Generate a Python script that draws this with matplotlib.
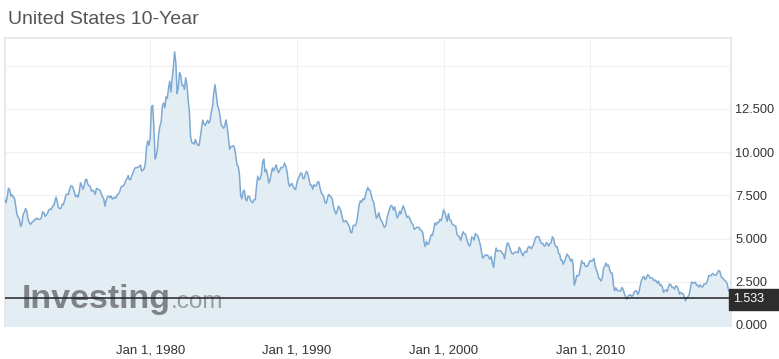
import numpy as np
import matplotlib
matplotlib.use("Agg")
from matplotlib import pyplot as plt
from matplotlib.patches import Rectangle

plt.rcParams['font.family'] = ['Liberation Sans', 'DejaVu Sans']

# monthly 10-year yield, Feb 1970 .. Jul 2019
start_year = 1970 + 1/12
yields = [
    7.24, 7.07, 7.39, 7.91, 7.84, 7.46, 7.53, 7.39, 7.33, 6.84, 6.39,
    6.24, 6.11, 5.70, 5.83, 6.39, 6.52, 6.73, 6.58, 6.14, 5.93, 5.81, 5.93,
    5.95, 6.08, 6.07, 6.19, 6.13, 6.11, 6.11, 6.21, 6.55, 6.48, 6.28, 6.36,
    6.46, 6.64, 6.71, 6.67, 6.85, 6.90, 7.13, 7.40, 7.09, 6.79, 6.73, 6.74,
    6.99, 6.96, 7.21, 7.51, 7.58, 7.54, 7.81, 8.04, 8.04, 7.90, 7.68, 7.43,
    7.50, 7.39, 7.73, 8.23, 8.06, 7.86, 8.06, 8.40, 8.43, 8.14, 8.05, 8.00,
    7.74, 7.79, 7.73, 7.56, 7.90, 7.86, 7.83, 7.77, 7.59, 7.41, 7.29, 6.87,
    7.21, 7.39, 7.46, 7.37, 7.46, 7.28, 7.33, 7.40, 7.34, 7.52, 7.58, 7.69,
    7.96, 8.03, 8.04, 8.15, 8.35, 8.46, 8.64, 8.41, 8.42, 8.64, 8.81, 9.01,
    9.10, 9.10, 9.12, 9.18, 9.25, 8.91, 8.95, 9.03, 9.33, 10.30, 10.65, 10.39,
    10.80, 12.60, 12.70, 11.47, 9.60, 9.78, 10.25, 11.10, 11.51, 11.75, 12.68, 12.84,
    12.57, 13.19, 13.12, 13.68, 14.10, 13.47, 14.28, 14.94, 15.80, 15.15, 13.39, 13.72,
    14.59, 14.43, 13.86, 13.87, 13.62, 14.30, 13.95, 13.06, 12.34, 10.91, 10.55, 10.54,
    10.46, 10.72, 10.51, 10.40, 10.38, 10.85, 11.38, 11.85, 11.65, 11.54, 11.69, 11.83,
    11.67, 11.84, 12.32, 12.63, 13.41, 13.90, 13.36, 12.72, 12.52, 12.16, 11.57, 11.50,
    11.38, 11.51, 11.86, 11.43, 10.85, 10.16, 10.31, 10.33, 10.37, 10.24, 9.78, 9.26,
    9.19, 8.70, 7.50, 7.30, 7.71, 7.80, 7.30, 7.17, 7.45, 7.43, 7.25, 7.11,
    7.08, 7.25, 7.25, 8.02, 8.61, 8.40, 8.45, 8.76, 9.42, 9.60, 8.86, 8.99,
    8.67, 8.21, 8.37, 8.72, 9.09, 8.92, 9.06, 9.26, 8.98, 8.80, 8.96, 9.11,
    9.09, 9.17, 9.36, 9.18, 8.86, 8.28, 8.02, 8.11, 8.19, 8.01, 7.87, 7.84,
    8.21, 8.47, 8.59, 8.79, 8.76, 8.48, 8.47, 8.75, 8.89, 8.72, 8.39, 8.08,
    8.09, 7.85, 8.11, 8.04, 8.07, 8.28, 8.27, 7.90, 7.65, 7.53, 7.42, 7.09,
    7.03, 7.34, 7.54, 7.48, 7.39, 7.26, 6.84, 6.59, 6.42, 6.59, 6.87, 6.77,
    6.60, 6.26, 5.98, 5.97, 6.04, 5.96, 5.81, 5.68, 5.36, 5.33, 5.72, 5.77,
    5.75, 5.97, 6.48, 6.97, 7.18, 7.10, 7.30, 7.24, 7.46, 7.74, 7.96, 7.81,
    7.78, 7.47, 7.20, 7.06, 6.63, 6.17, 6.28, 6.49, 6.20, 6.04, 5.93, 5.71,
    5.65, 5.81, 6.27, 6.51, 6.74, 6.91, 6.87, 6.64, 6.83, 6.53, 6.20, 6.30,
    6.58, 6.42, 6.69, 6.89, 6.71, 6.49, 6.22, 6.30, 6.21, 6.03, 5.88, 5.81,
    5.54, 5.57, 5.65, 5.64, 5.65, 5.50, 5.46, 5.34, 4.81, 4.53, 4.83, 4.65,
    4.72, 5.00, 5.23, 5.18, 5.54, 5.90, 5.79, 5.94, 5.92, 6.11, 6.03, 6.28,
    6.66, 6.52, 6.26, 5.99, 6.44, 6.10, 6.05, 5.83, 5.80, 5.74, 5.72, 5.24,
    5.16, 5.10, 4.89, 5.14, 5.39, 5.28, 5.24, 4.97, 4.73, 4.57, 4.65, 5.09,
    5.04, 4.91, 5.28, 5.21, 5.16, 4.93, 4.65, 4.26, 3.87, 3.94, 4.05, 4.03,
    4.05, 3.90, 3.81, 3.96, 3.57, 3.33, 3.98, 4.45, 4.27, 4.29, 4.30, 4.27,
    4.15, 4.08, 3.83, 4.35, 4.72, 4.73, 4.50, 4.28, 4.13, 4.10, 4.19, 4.23,
    4.22, 4.17, 4.50, 4.34, 4.14, 4.00, 4.18, 4.26, 4.20, 4.46, 4.54, 4.47,
    4.42, 4.57, 4.72, 4.99, 5.11, 5.11, 5.09, 4.88, 4.72, 4.73, 4.60, 4.56,
    4.76, 4.72, 4.56, 4.69, 4.75, 5.10, 5.00, 4.67, 4.52, 4.53, 4.15, 4.10,
    3.74, 3.74, 3.51, 3.68, 3.88, 4.10, 4.01, 3.89, 3.69, 3.81, 3.53, 2.30,
    2.52, 2.87, 2.82, 2.93, 3.29, 3.72, 3.56, 3.59, 3.40, 3.39, 3.40, 3.59,
    3.73, 3.69, 3.73, 3.85, 3.42, 3.20, 3.01, 2.70, 2.65, 2.54, 2.76, 3.29,
    3.39, 3.58, 3.41, 3.46, 3.17, 3.00, 3.00, 2.30, 1.98, 2.15, 2.01, 1.98,
    1.97, 1.97, 2.17, 2.05, 1.80, 1.62, 1.48, 1.68, 1.72, 1.75, 1.65, 1.72,
    1.91, 1.98, 1.96, 1.76, 1.93, 2.30, 2.58, 2.74, 2.81, 2.62, 2.72, 2.90,
    2.86, 2.71, 2.72, 2.71, 2.56, 2.60, 2.54, 2.42, 2.53, 2.30, 2.33, 2.21,
    1.88, 1.98, 2.04, 1.94, 2.20, 2.36, 2.32, 2.17, 2.17, 2.07, 2.26, 2.24,
    2.09, 1.78, 1.89, 1.81, 1.81, 1.64, 1.40, 1.56, 1.63, 1.76, 2.14, 2.49,
    2.43, 2.42, 2.48, 2.30, 2.30, 2.19, 2.32, 2.21, 2.20, 2.36, 2.35, 2.40,
    2.58, 2.86, 2.84, 2.87, 2.98, 2.91, 2.89, 2.89, 3.00, 3.15, 3.12, 2.83,
    2.71, 2.68, 2.57, 2.53, 2.40, 2.07, 1.90,
]
current = 1.533
y_ticks = [0, 2.5, 5, 7.5, 10, 12.5, 15]
y_labels = ["0.000", "2.500", "5.000", "7.500", "10.000", "12.500", ""]
x_ticks = [1980, 1990, 2000, 2010]
x_labels = ["Jan 1, 1980", "Jan 1, 1990", "Jan 1, 2000", "Jan 1, 2010"]

years = start_year + np.arange(len(yields)) / 12

W, H = 779, 359
fig = plt.figure(figsize=(W / 100, H / 100), dpi=100)
ax = fig.add_axes([5 / W, 1 - 326 / H, (731 - 5) / W, (326 - 38) / H])

ax.fill_between(years, yields, -1, color="#e3eef4", lw=0, zorder=1)
ax.plot(years, yields, color="#7ea9d3", lw=1.1, zorder=3)
ax.axhline(current, color="#222222", lw=1.1, zorder=4)

ax.set_xlim(1970.1, 2019.6)
ax.set_ylim(-0.06, 16.6)

ax.set_yticks(y_ticks)
ax.set_yticklabels(y_labels)
ax.yaxis.tick_right()
ax.set_xticks(x_ticks)
ax.set_xticklabels(x_labels)
ax.tick_params(axis="y", length=0, pad=3, labelsize=9.2, labelcolor="#333333")
ax.tick_params(axis="x", length=0, pad=13, labelsize=9.5, labelcolor="#333333")
ax.grid(True, color="#f0f0f3", lw=0.8, zorder=0)
ax.set_axisbelow(True)
for side in ["top", "left", "right"]:
    ax.spines[side].set_color("#e3e3ea")
    ax.spines[side].set_linewidth(1.2)
ax.spines["bottom"].set_visible(False)

# current value tag
fig.patches.append(Rectangle((729 / W, 1 - 310 / H), 50 / W, 21 / H,
                             transform=fig.transFigure, color="#2d2d2d", zorder=5))
fig.text(733 / W, 1 - 299.5 / H, "1.533", color="white", fontsize=9,
         ha="left", va="center", zorder=6)

# watermark
ax.text(22 / W, 1 - 308 / H, "Investing", transform=fig.transFigure,
        fontsize=24.5, fontweight="bold", color="#808488", ha="left",
        va="baseline", zorder=2.5, clip_on=False)
ax.text(171 / W, 1 - 308 / H, ".com", transform=fig.transFigure,
        fontsize=17.5, color="#9a9ea2", ha="left", va="baseline",
        zorder=2.5, clip_on=False)

fig.text(8 / W, 1 - 20 / H, "United States 10-Year", fontsize=14,
         color="#555555", ha="left", va="center")

fig.savefig("out.png", dpi=100)
